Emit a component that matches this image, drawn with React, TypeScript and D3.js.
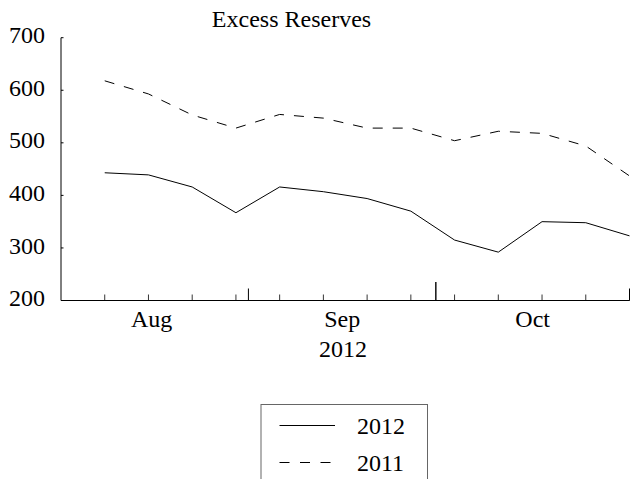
import React from "react";
import * as d3 from "d3";

const dates = [
  "2012-08-08", "2012-08-15", "2012-08-22", "2012-08-29",
  "2012-09-05", "2012-09-12", "2012-09-19", "2012-09-26",
  "2012-10-03", "2012-10-10", "2012-10-17", "2012-10-24", "2012-10-31",
];
const series2012 = [443, 439, 416, 367, 416, 407, 394, 370, 315, 292, 350, 348, 323];
const series2011 = [618, 593, 553, 528, 554, 547, 528, 528, 504, 522, 518, 494, 437];
const yTicks = [200, 300, 400, 500, 600, 700];
const monthEnds = ["2012-08-31", "2012-09-30", "2012-10-31"];
const monthLabels = ["Aug", "Sep", "Oct"];
const legendLabels = ["2012", "2011"];

const W = 630;
const H = 479;
const FONT = "'Liberation Serif', 'Times New Roman', serif";

export default function App() {
  const parse = d3.utcParse("%Y-%m-%d");
  const xs = dates.map((d) => parse(d) as Date);
  const x = d3
    .scaleUtc()
    .domain([parse("2012-08-01") as Date, parse("2012-10-31") as Date])
    .range([61, 629.5]);
  const y = d3.scaleLinear().domain([200, 700]).range([300.5, 37.7]);

  const line = d3
    .line<number>()
    .x((_, i) => x(xs[i]))
    .y((v) => y(v));

  const ends = monthEnds.map((d) => parse(d) as Date);
  const starts = [d3.utcDay.offset(parse("2012-08-01") as Date, -1), ends[0], ends[1]];

  return (
    <svg
      width={W}
      height={H}
      style={{ position: "absolute", left: 0, top: 0, background: "#fff" }}
      fontFamily={FONT}
    >
      <text x={291.5} y={26.7} fontSize={24} textAnchor="middle" fill="#000">
        Excess Reserves
      </text>
      {/* y axis */}
      <line x1={61} x2={61} y1={y(700)} y2={y(200)} stroke="#000" strokeWidth={1} />
      {yTicks.map((t) => (
        <g key={t}>
          <line x1={61} x2={63.5} y1={y(t)} y2={y(t)} stroke="#000" />
          <text x={45} y={y(t) + 5.6} fontSize={24} textAnchor="end" fill="#000">
            {t}
          </text>
        </g>
      ))}
      {/* x axis */}
      <line x1={61} x2={629.5} y1={y(200)} y2={y(200)} stroke="#000" strokeWidth={1} />
      {xs.map((d, i) => (
        <line key={i} x1={x(d)} x2={x(d)} y1={y(200)} y2={y(200) - 6} stroke="#000" strokeWidth={0.8} />
      ))}
      {ends.map((d, i) => (
        <line
          key={"m" + i}
          x1={x(d)}
          x2={x(d)}
          y1={y(200)}
          y2={y(200) - (i === 1 ? 18.5 : 12)}
          stroke="#000"
          strokeWidth={i === 1 ? 1.4 : 1}
        />
      ))}
      {monthLabels.map((m, i) => (
        <text
          key={m}
          x={(x(starts[i]) + x(ends[i])) / 2}
          y={326.5}
          fontSize={24}
          textAnchor="middle"
          fill="#000"
        >
          {m}
        </text>
      ))}
      <text x={343} y={356.7} fontSize={24} textAnchor="middle" fill="#000">
        2012
      </text>
      {/* series */}
      <path d={line(series2012) || ""} fill="none" stroke="#000" strokeWidth={1} />
      <path d={line(series2011) || ""} fill="none" stroke="#000" strokeWidth={1} strokeDasharray="10,10" />
      {/* legend */}
      <rect x={261} y={404.5} width={166.5} height={80} fill="none" stroke="#666" strokeWidth={1} />
      {legendLabels.map((l, i) => (
        <g key={l}>
          <line
            x1={279.5}
            x2={335}
            y1={425.5 + i * 37}
            y2={425.5 + i * 37}
            stroke="#000"
            strokeWidth={1}
            strokeDasharray={i === 1 ? "10,10.5" : undefined}
          />
          <text x={357} y={434 + i * 37} fontSize={24} fill="#000">
            {l}
          </text>
        </g>
      ))}
    </svg>
  );
}
